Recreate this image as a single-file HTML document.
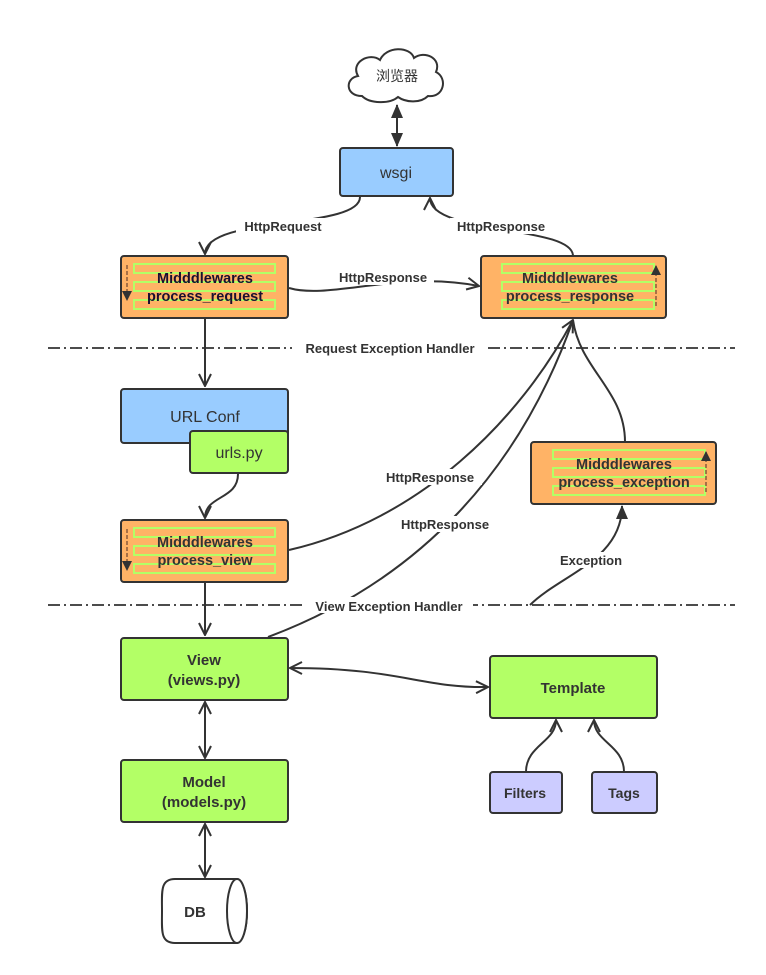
<!DOCTYPE html>
<html><head><meta charset="utf-8"><style>
html,body{margin:0;padding:0;background:#fff;}
svg{display:block;}
text{font-family:"Liberation Sans","Noto Sans CJK SC",sans-serif;fill:#333;}
.b{font-weight:bold;}
</style></head><body>
<svg width="766" height="975" viewBox="0 0 766 975" xmlns="http://www.w3.org/2000/svg">
<defs>
<marker id="o" viewBox="0 0 14 14" refX="13" refY="7" markerWidth="14" markerHeight="14" markerUnits="userSpaceOnUse" orient="auto-start-reverse">
<path d="M1,1 L13,7 L1,13" fill="none" stroke="#333" stroke-width="2"/></marker>
<marker id="f" viewBox="0 0 14 14" refX="13" refY="7" markerWidth="14" markerHeight="14" markerUnits="userSpaceOnUse" orient="auto-start-reverse">
<path d="M0,1 L14,7 L0,13 z" fill="#333"/></marker>
<marker id="s" viewBox="0 0 10 10" refX="9" refY="5" markerWidth="10" markerHeight="10" markerUnits="userSpaceOnUse" orient="auto">
<path d="M0,0 L10,5 L0,10 z" fill="#333"/></marker>
</defs>
<g stroke="#333" stroke-width="2" fill="none">
<path d="M362,96 C345,96 345,78 358,76 C350,62 370,52 380,60 C386,46 410,46 414,58 C424,50 442,58 436,72 C448,78 444,98 428,96 C420,104 405,102 398,97 C390,104 370,104 362,96 Z" fill="#fff"/>
<path d="M397,105 L397,146" marker-start="url(#f)" marker-end="url(#f)"/>
<path d="M360,197 C360,230 205,215 205,254" marker-end="url(#o)"/>
<path d="M573,256 C573,225 430,235 430,198" marker-end="url(#o)"/>
<path d="M289,288 C330,300 400,270 479,286" marker-end="url(#o)"/>
<path d="M205,318 L205,386" marker-end="url(#o)"/>
<path d="M238,474 C238,500 205,495 205,518" marker-end="url(#o)"/>
<path d="M289,550 C420,520 520,420 573,320" marker-end="url(#o)"/>
<path d="M268,637 C420,580 520,470 573,320"/>
<path d="M625,442 C625,390 580,370 573,320"/>
<path d="M530,605 C560,575 622,560 622,506" marker-end="url(#f)"/>
<path d="M205,582 L205,635" marker-end="url(#o)"/>
<path d="M290,668 C400,668 420,688 488,687" marker-start="url(#o)" marker-end="url(#o)"/>
<path d="M205,702 L205,758" marker-start="url(#o)" marker-end="url(#o)"/>
<path d="M205,824 L205,877" marker-start="url(#o)" marker-end="url(#o)"/>
<path d="M526,772 C526,745 556,742 556,720" marker-end="url(#o)"/>
<path d="M624,772 C624,745 594,742 594,720" marker-end="url(#o)"/>
</g>
<g stroke="#333" stroke-width="1.8" stroke-dasharray="12,4,2,4">
<line x1="48" y1="348" x2="735" y2="348"/><line x1="48" y1="605" x2="735" y2="605"/>
</g>
<g font-size="13" class="b" text-anchor="middle">
<rect x="292" y="340" width="196" height="16" fill="#fff"/>
<text x="390" y="353" class="b">Request Exception Handler</text>
<rect x="305" y="597" width="168" height="16" fill="#fff"/>
<text x="389" y="611" class="b">View Exception Handler</text>
<rect x="236" y="218" width="94" height="16" fill="#fff"/><text x="283" y="231" class="b">HttpRequest</text>
<rect x="450" y="218" width="102" height="16" fill="#fff"/><text x="501" y="231" class="b">HttpResponse</text>
<rect x="332" y="269" width="102" height="16" fill="#fff"/><text x="383" y="282" class="b">HttpResponse</text>
<rect x="380" y="469" width="102" height="16" fill="#fff"/><text x="430" y="482" class="b">HttpResponse</text>
<rect x="394" y="516" width="102" height="16" fill="#fff"/><text x="445" y="529" class="b">HttpResponse</text>
<rect x="555" y="552" width="72" height="16" fill="#fff"/><text x="591" y="565" class="b">Exception</text>
</g>
<text x="397" y="81" font-size="14" text-anchor="middle">浏览器</text>
<g stroke="#333" stroke-width="2">
<rect x="340" y="148" width="113" height="48" rx="3" fill="#99ccff"/>
<rect x="121" y="256" width="167" height="62" rx="3" fill="#ffb366"/>
<rect x="481" y="256" width="185" height="62" rx="3" fill="#ffb366"/>
<rect x="121" y="389" width="167" height="54" rx="3" fill="#99ccff"/>
<rect x="190" y="431" width="98" height="42" rx="3" fill="#b3ff66"/>
<rect x="121" y="520" width="167" height="62" rx="3" fill="#ffb366"/>
<rect x="531" y="442" width="185" height="62" rx="3" fill="#ffb366"/>
<rect x="121" y="638" width="167" height="62" rx="3" fill="#b3ff66"/>
<rect x="490" y="656" width="167" height="62" rx="3" fill="#b3ff66"/>
<rect x="121" y="760" width="167" height="62" rx="3" fill="#b3ff66"/>
<rect x="490" y="772" width="72" height="41" rx="3" fill="#ccccff"/>
<rect x="592" y="772" width="65" height="41" rx="3" fill="#ccccff"/>
<path d="M175,879 L237,879 A10,32 0 0 1 237,943 L175,943 C160,943 162,930 162,911 C162,892 160,879 175,879 Z" fill="#fff"/>
<ellipse cx="237" cy="911" rx="10" ry="32" fill="#fff"/>
</g>
<g fill="none" stroke="#b3ff66" stroke-width="2">
<rect x="134" y="264" width="141" height="9"/><rect x="134" y="282" width="141" height="9"/><rect x="134" y="300" width="141" height="9"/>
<rect x="502" y="264" width="152" height="9"/><rect x="502" y="282" width="152" height="9"/><rect x="502" y="300" width="152" height="9"/>
<rect x="134" y="528" width="141" height="9"/><rect x="134" y="546" width="141" height="9"/><rect x="134" y="564" width="141" height="9"/>
<rect x="553" y="450" width="152" height="9"/><rect x="553" y="468" width="152" height="9"/><rect x="553" y="486" width="152" height="9"/>
</g>
<g stroke="#8a5a3a" stroke-width="1.5" stroke-dasharray="4,2">
<line x1="127" y1="265" x2="127" y2="300" marker-end="url(#s)"/>
<line x1="656" y1="306" x2="656" y2="266" marker-end="url(#s)"/>
<line x1="127" y1="529" x2="127" y2="570" marker-end="url(#s)"/>
<line x1="706" y1="492" x2="706" y2="452" marker-end="url(#s)"/>
</g>
<g text-anchor="middle">
<text x="396" y="178" font-size="16">wsgi</text>
<text x="205" y="283" font-size="14.5" class="b" style="fill:#1a1030">Midddlewares</text>
<text x="205" y="301" font-size="14.5" class="b" style="fill:#1a1030">process_request</text>
<text x="570" y="283" font-size="14.5" class="b">Midddlewares</text>
<text x="570" y="301" font-size="14.5" class="b">process_response</text>
<text x="205" y="422" font-size="16">URL Conf</text>
<text x="239" y="458" font-size="16">urls.py</text>
<text x="205" y="547" font-size="14.5" class="b">Midddlewares</text>
<text x="205" y="565" font-size="14.5" class="b">process_view</text>
<text x="624" y="469" font-size="14.5" class="b">Midddlewares</text>
<text x="624" y="487" font-size="14.5" class="b">process_exception</text>
<text x="204" y="665" font-size="15" class="b">View</text>
<text x="204" y="685" font-size="15" class="b">(views.py)</text>
<text x="573" y="693" font-size="15" class="b">Template</text>
<text x="204" y="787" font-size="15" class="b">Model</text>
<text x="204" y="807" font-size="15" class="b">(models.py)</text>
<text x="525" y="798" font-size="14" class="b">Filters</text>
<text x="624" y="798" font-size="14" class="b">Tags</text>
<text x="195" y="917" font-size="15" class="b">DB</text>
</g>
</svg>
</body></html>
